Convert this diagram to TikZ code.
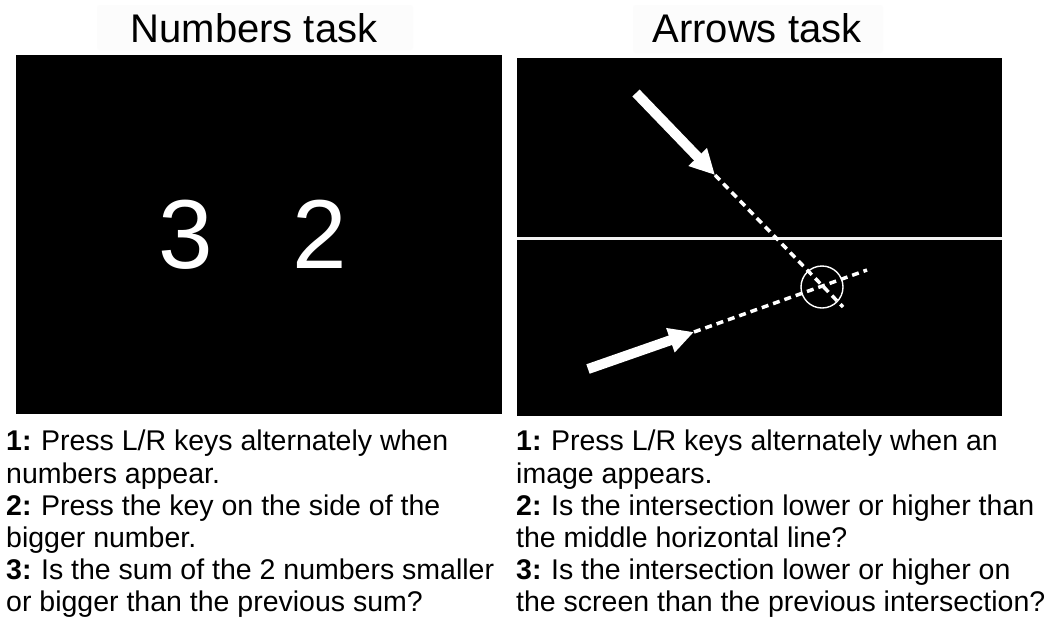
\documentclass[tikz,border=0pt]{standalone}
\usepackage{fontspec}
\setmainfont{Liberation Sans}
\usetikzlibrary{arrows.meta}
\begin{document}
\begin{tikzpicture}[x=1pt,y=-1pt,
  panel/.style={fill=black},
  titlebox/.style={fill=black!1,rounded corners=3pt},
  titletext/.style={font=\fontsize{40}{44}\selectfont,anchor=base},
  digit/.style={font=\fontsize{98}{100}\selectfont,text=white,anchor=base},
  instr/.style={font=\fontsize{28.5}{32}\selectfont,anchor=base west,inner sep=0pt},
  bigarrow/.style={draw=white,line width=10pt,-{Triangle[length=25pt,width=24pt]}},
  dashline/.style={draw=white,line width=3.5pt,dash pattern=on 7pt off 5pt},
  midline/.style={draw=black!5,line width=3pt},
  ring/.style={draw=white,line width=1.4pt}]
\useasboundingbox (0,0) rectangle (1052,619);
\fill[white] (0,0) rectangle (1052,619);
% titles
\fill[titlebox] (97,5) rectangle (413,50);
\fill[titlebox] (633,5) rectangle (883,53);
\node[titletext] (t1) at (254,42) {Numbers task};
\node[titletext] (t2) at (757,42) {Arrows task};
% panels
\fill[panel] (16,55) rectangle (502,414);
\fill[panel] (517,58) rectangle (1002,416);
% numbers
\node[digit] (n3) at (186,268) {3};
\node[digit] (n2) at (320,268) {2};
% arrows panel
\draw[midline] (517,238) -- (1002,238);
\coordinate (a1s) at (636,93);
\coordinate (a1t) at (715,175);
\coordinate (a1e) at (843,307);
\coordinate (a2s) at (588,369);
\coordinate (a2t) at (694,332);
\coordinate (a2e) at (867,270);
\coordinate (ix) at (822,287);
\draw[dashline] (a1t) -- (a1e);
\draw[dashline] (a2t) -- (a2e);
\draw[bigarrow] (a1s) -- (a1t);
\draw[bigarrow] (a2s) -- (a2t);
\draw[ring] (ix) circle (21);
% instructions left
\node[instr] (l1) at (6,450) {\textbf{1:}\kern-1pt{} Press L/R keys alternately when};
\node[instr] (l2) at (6,483) {numbers appear.};
\node[instr] (l3) at (6,515) {\textbf{2:}\kern-1pt{} Press the key on the side of the};
\node[instr] (l4) at (6,547) {bigger number.};
\node[instr] (l5) at (6,579) {\textbf{3:}\kern-1pt{} Is the sum of the 2 numbers smaller};
\node[instr] (l6) at (6,611) {or bigger than the previous sum?};
% instructions right
\node[instr] (r1) at (516,450) {\textbf{1:}\kern-1pt{} Press L/R keys alternately when an};
\node[instr] (r2) at (516,483) {image appears.};
\node[instr] (r3) at (516,515) {\textbf{2:}\kern-1pt{} Is the intersection lower or higher than};
\node[instr] (r4) at (516,547) {the middle horizontal line?};
\node[instr] (r5) at (516,579) {\textbf{3:}\kern-1pt{} Is the intersection lower or higher on};
\node[instr] (r6) at (516,611) {the screen than the previous intersection?};
\end{tikzpicture}
\end{document}
